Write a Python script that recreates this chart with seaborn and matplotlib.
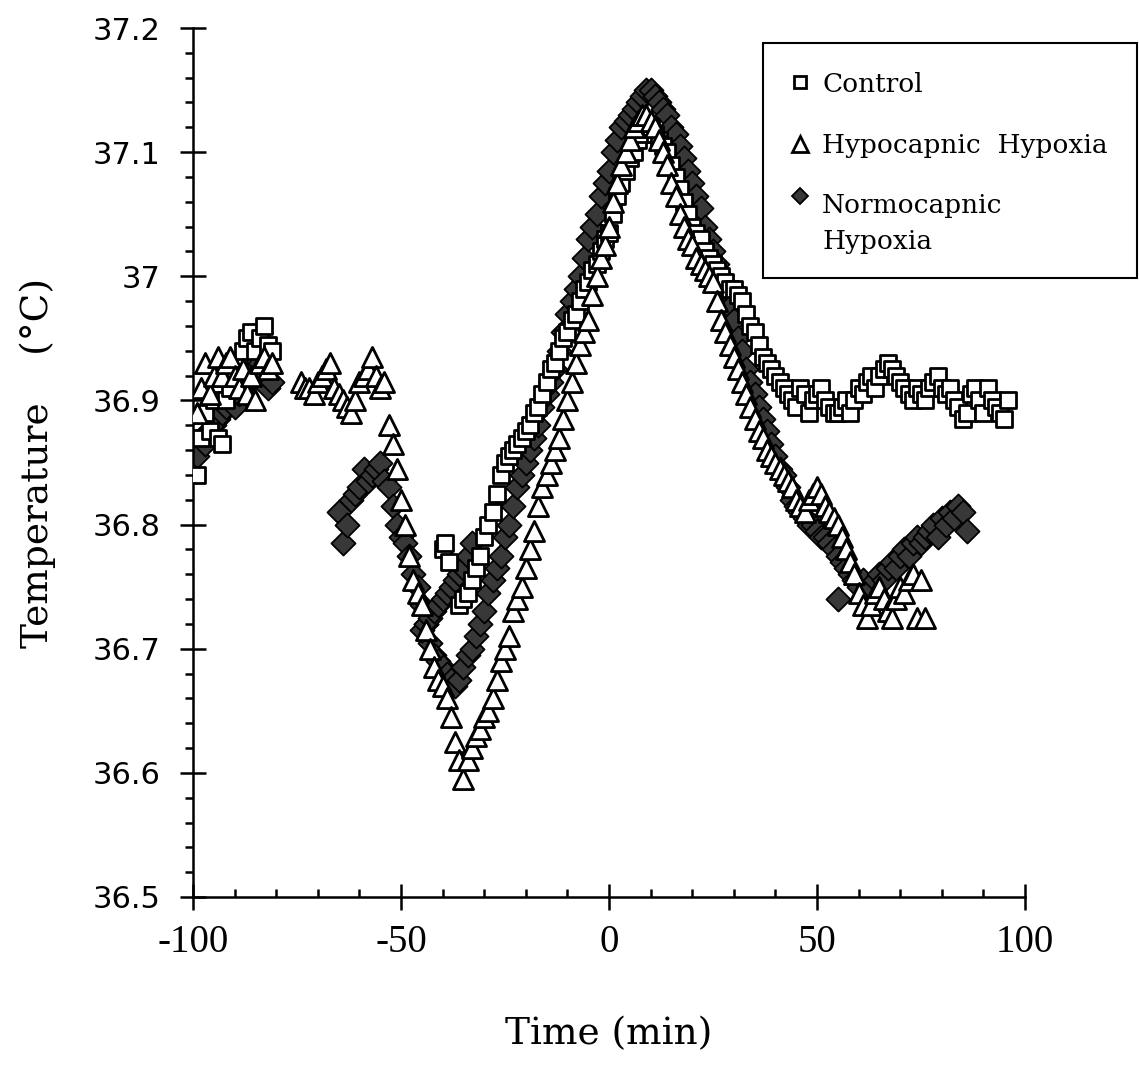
import matplotlib
matplotlib.use("Agg")
import matplotlib.pyplot as plt
import seaborn as sns
import pandas as pd
from matplotlib.patches import Rectangle
from matplotlib.lines import Line2D
from matplotlib.ticker import MultipleLocator

# ---------------- data ----------------
ctrl_t1 = list(range(-99, -80))
ctrl_T1 = [36.84, 36.87, 36.89, 36.875, 36.90, 36.87, 36.865, 36.90, 36.91, 36.925,
           36.93, 36.94, 36.95, 36.955, 36.94, 36.95, 36.96, 36.945, 36.94]
ctrl_t2 = [-40, -39.5, -38.5]
ctrl_T2 = [36.78, 36.785, 36.77]
ctrl_t3 = list(range(-36, 97))
ctrl_T3 = [36.735, 36.74, 36.745, 36.755, 36.765, 36.775, 36.79, 36.80, 36.81, 36.825,
           36.84, 36.85, 36.855, 36.86, 36.865, 36.87, 36.875, 36.88, 36.89, 36.895,
           36.905, 36.915, 36.925, 36.93, 36.94, 36.95, 36.955, 36.965, 36.97, 36.98,
           36.99, 36.995, 37.005, 37.01, 37.02, 37.03, 37.035, 37.05, 37.065, 37.075,
           37.085, 37.095, 37.10, 37.11, 37.115, 37.12, 37.12, 37.115, 37.11, 37.105,
           37.10, 37.09, 37.08, 37.07, 37.06, 37.05, 37.04, 37.035, 37.03, 37.02,
           37.015, 37.01, 37.005, 37.0, 36.995, 36.99, 36.99, 36.985, 36.98, 36.97,
           36.96, 36.955, 36.945, 36.935, 36.93, 36.925, 36.92, 36.915, 36.91, 36.905,
           36.90, 36.895, 36.91, 36.905, 36.89, 36.90, 36.905, 36.91, 36.90, 36.895,
           36.89, 36.89, 36.895, 36.90, 36.89, 36.90, 36.91, 36.905, 36.915, 36.92,
           36.91, 36.92, 36.925, 36.93, 36.925, 36.92, 36.915, 36.91, 36.905, 36.90,
           36.91, 36.905, 36.90, 36.91, 36.915, 36.92, 36.91, 36.905, 36.91, 36.90,
           36.895, 36.885, 36.89, 36.905, 36.91, 36.90, 36.89, 36.91, 36.90, 36.895,
           36.89, 36.885, 36.90]

hypo_t1 = list(range(-99, -80))
hypo_T1 = [36.89, 36.91, 36.93, 36.905, 36.92, 36.935, 36.92, 36.93, 36.935, 36.92,
           36.91, 36.925, 36.905, 36.92, 36.90, 36.93, 36.935, 36.925, 36.93]
hypo_t2 = list(range(-74, 77))
hypo_T2 = [36.915, 36.91,
           36.91, 36.905, 36.915, 36.92, 36.925, 36.93, 36.91, 36.905, 36.90, 36.895,
           36.89, 36.90, 36.915, 36.92, 36.925, 36.935, 36.92, 36.91, 36.915, 36.88,
           36.865, 36.845, 36.82, 36.80, 36.775, 36.755, 36.745, 36.735, 36.715, 36.70,
           36.685, 36.675, 36.67, 36.66, 36.645, 36.625, 36.61, 36.595, 36.61, 36.62,
           36.63, 36.635, 36.645, 36.65, 36.66, 36.675, 36.69, 36.70, 36.71, 36.73,
           36.74, 36.75, 36.765, 36.78, 36.795, 36.815, 36.83, 36.84, 36.85, 36.86,
           36.87, 36.885, 36.90, 36.915, 36.93, 36.945, 36.955, 36.965, 36.985, 37.0,
           37.015, 37.025, 37.04, 37.06, 37.075, 37.09, 37.10, 37.11, 37.12, 37.125,
           37.13, 37.13, 37.125, 37.12, 37.11, 37.10, 37.09, 37.075, 37.065, 37.05,
           37.04, 37.03, 37.025, 37.015, 37.01, 37.005, 37.0, 36.995, 36.98, 36.965,
           36.955, 36.945, 36.935, 36.925, 36.915, 36.905, 36.895, 36.885, 36.875, 36.87,
           36.86, 36.855, 36.85, 36.845, 36.84, 36.835, 36.83, 36.82, 36.815, 36.81,
           36.82, 36.825, 36.83, 36.825, 36.815, 36.81, 36.805, 36.80, 36.79, 36.78,
           36.77, 36.76, 36.745, 36.735, 36.725, 36.735, 36.745, 36.75, 36.74, 36.73,
           36.725, 36.74, 36.75, 36.745, 36.755, 36.76, 36.725, 36.755, 36.725]

norm_t1 = list(range(-100, -80))
norm_T1 = [36.86, 36.855, 36.87, 36.865, 36.875, 36.88, 36.885, 36.89, 36.895, 36.90,
           36.895, 36.905, 36.91, 36.915, 36.92, 36.925, 36.93, 36.92, 36.91, 36.915]
norm_t2 = list(range(-65, 87))
norm_T2 = [36.81, 36.785, 36.80, 36.82, 36.825, 36.83, 36.845, 36.835, 36.84, 36.845,
           36.85, 36.835, 36.83, 36.815, 36.80, 36.79, 36.785, 36.775, 36.76, 36.75,
           36.735, 36.72, 36.705, 36.695, 36.69, 36.685, 36.68, 36.675, 36.67, 36.675,
           36.685, 36.695, 36.70, 36.71, 36.72, 36.73, 36.745, 36.755, 36.765, 36.775,
           36.79, 36.80, 36.815, 36.83, 36.84, 36.85, 36.86, 36.87, 36.88, 36.895,
           36.905, 36.915, 36.925, 36.94, 36.955, 36.97, 36.98, 36.99, 37.0, 37.015,
           37.03, 37.04, 37.05, 37.065, 37.075, 37.085, 37.10, 37.11, 37.12, 37.125,
           37.13, 37.135, 37.14, 37.145, 37.15, 37.15, 37.145, 37.14, 37.135, 37.13,
           37.12, 37.115, 37.105, 37.095, 37.085, 37.075, 37.065, 37.055, 37.04, 37.03,
           37.02, 37.01, 37.0, 36.99, 36.975, 36.965, 36.95, 36.94, 36.925, 36.915,
           36.905, 36.895, 36.885, 36.875, 36.865, 36.855, 36.845, 36.84, 36.83, 36.82,
           36.815, 36.81, 36.805, 36.80, 36.80, 36.795, 36.79, 36.79, 36.785, 36.78,
           36.775, 36.77, 36.765, 36.76, 36.755, 36.75, 36.755, 36.745, 36.75, 36.755,
           36.76, 36.755, 36.765, 36.77, 36.765, 36.775, 36.78, 36.775, 36.785, 36.79,
           36.785, 36.79, 36.795, 36.80, 36.79, 36.805, 36.80, 36.81, 36.805, 36.815,
           36.81, 36.795]
norm_t3 = [-45, -44, -43, -42, -41, -40, -39, -38, -37, -36, -35, -34, -33, 55]
norm_T3 = [36.715, 36.72, 36.725, 36.73, 36.735, 36.74, 36.745, 36.75, 36.755, 36.76,
           36.765, 36.775, 36.785, 36.74]

series_labels = ["Control", "Hypocapnic  Hypoxia", "Normocapnic\nHypoxia"]
x_ticks = [-100, -50, 0, 50, 100]
y_ticks = [36.5, 36.6, 36.7, 36.8, 36.9, 37.0, 37.1, 37.2]
y_tick_labels = ["36.5", "36.6", "36.7", "36.8", "36.9", "37", "37.1", "37.2"]

ctrl = pd.DataFrame({"t": ctrl_t1 + ctrl_t2 + ctrl_t3, "T": ctrl_T1 + ctrl_T2 + ctrl_T3})
hypo = pd.DataFrame({"t": hypo_t1 + hypo_t2, "T": hypo_T1 + hypo_T2})
norm = pd.DataFrame({"t": norm_t1 + norm_t2 + norm_t3, "T": norm_T1 + norm_T2 + norm_T3})

# ---------------- style ----------------
sns.set_style("ticks")
plt.rcParams["font.family"] = ["DejaVu Serif"]
for key in ["text.color", "axes.labelcolor", "xtick.color", "ytick.color", "axes.edgecolor"]:
    plt.rcParams[key] = "black"

W, H = 1139, 1067
fig = plt.figure(figsize=(W / 100, H / 100), dpi=100)
ax = fig.add_axes([193 / W, 1 - 897 / H, (1025 - 193) / W, (897 - 28) / H])

sns.scatterplot(data=norm, x="t", y="T", ax=ax, marker="D", s=150, color="#383838",
                edgecolor="black", linewidth=1.3, zorder=2, legend=False)
sns.scatterplot(data=ctrl, x="t", y="T", ax=ax, marker="s", s=145, color="white",
                edgecolor="black", linewidth=2.0, zorder=3, legend=False)
sns.scatterplot(data=hypo, x="t", y="T", ax=ax, marker="^", s=210, color="white",
                edgecolor="black", linewidth=2.0, zorder=4, legend=False)

ax.set_xlim(-100, 100)
ax.set_ylim(36.5, 37.2)
ax.set_xticks(x_ticks)
ax.set_xticklabels([str(v) for v in x_ticks], family="Liberation Serif", fontsize=28)
ax.set_yticks(y_ticks)
ax.set_yticklabels(y_tick_labels, family="DejaVu Sans", fontsize=22)
ax.xaxis.set_minor_locator(MultipleLocator(10))
ax.yaxis.set_minor_locator(MultipleLocator(0.02))

for side in ["top", "right"]:
    ax.spines[side].set_visible(False)
for side in ["left", "bottom"]:
    ax.spines[side].set_linewidth(1.8)
    ax.spines[side].set_color("black")

ax.tick_params(axis="y", which="major", direction="inout", length=19, width=1.8, pad=14, colors="black")
ax.tick_params(axis="y", which="minor", direction="out", length=6, width=1.8, colors="black")
ax.tick_params(axis="x", which="major", direction="inout", length=19, width=1.8, pad=10, colors="black")
ax.tick_params(axis="x", which="minor", direction="in", length=6, width=1.8, colors="black")

ax.set_xlabel("Time (min)", fontsize=27, labelpad=40, family="DejaVu Serif", color="black")
ax.set_ylabel("Temperature    (°C)", fontsize=27, labelpad=26, family="DejaVu Serif", color="black")

# ---------------- legend (drawn in figure coordinates) ----------------
fig.add_artist(Rectangle((763 / W, 1 - 278 / H), (1137 - 763) / W, (278 - 43) / H,
                         transform=fig.transFigure, fill=False, ec="black", lw=1.5))
mk_x = 800 / W
tx_x = 822 / W
fig.add_artist(Line2D([mk_x], [1 - 82 / H], transform=fig.transFigure, marker="s", ms=9,
                      mfc="white", mec="black", mew=2.0, ls="none"))
fig.add_artist(Line2D([mk_x], [1 - 144 / H], transform=fig.transFigure, marker="^", ms=11,
                      mfc="white", mec="black", mew=2.0, ls="none"))
fig.add_artist(Line2D([mk_x], [1 - 196 / H], transform=fig.transFigure, marker="D", ms=8.5,
                      mfc="#383838", mec="black", mew=1.3, ls="none"))
fig.text(tx_x, 1 - 92 / H, series_labels[0], fontsize=19, va="baseline", ha="left", color="black")
fig.text(tx_x, 1 - 153 / H, series_labels[1], fontsize=19, va="baseline", ha="left", color="black")
first, second = series_labels[2].split("\n")
fig.text(tx_x, 1 - 213 / H, first, fontsize=19, va="baseline", ha="left", color="black")
fig.text(tx_x, 1 - 249 / H, second, fontsize=19, va="baseline", ha="left", color="black")

fig.savefig("out.png", dpi=100, facecolor="white")
